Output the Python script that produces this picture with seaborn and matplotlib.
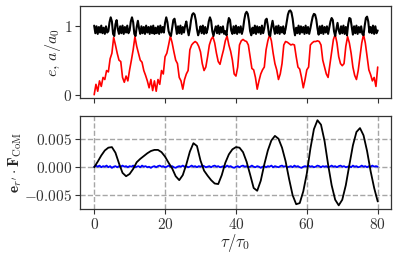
import numpy as np
import matplotlib
matplotlib.use('Agg')
import matplotlib.pyplot as plt
import seaborn as sns

# top panel: a/a0 (black), sampled every 1/3 tau0
a_ratio = [
    1.00, 0.89, 0.99, 0.88, 0.98, 0.90, 1.00, 0.89, 0.97, 0.88, 0.99, 0.90,
    0.92, 1.05, 1.12, 1.06, 0.88, 0.85, 1.02, 1.08, 0.95,
    0.88, 0.99, 0.89, 1.00, 0.88, 0.98, 0.90, 1.00, 0.89,
    0.93, 1.06, 1.12, 1.05, 0.88, 0.85, 0.98, 1.07, 0.96,
    0.88, 0.99, 0.89, 0.98, 0.88, 1.00, 0.90, 0.98, 0.88, 0.99,
    0.89, 1.00, 0.88, 0.97, 0.89, 0.99, 0.88, 1.00, 0.90, 0.98,
    0.90, 1.04, 1.12, 1.05, 0.92, 0.87, 0.85, 0.97, 1.08, 1.10, 1.00, 0.88,
    0.99, 0.89, 1.00, 0.88, 0.98, 0.90,
    1.00, 1.06, 0.95, 0.86, 0.95, 1.08, 1.16, 1.18, 1.16, 1.08, 0.95, 0.86, 0.92, 0.99,
    0.89, 1.00, 0.88, 0.98, 0.89, 0.95,
    1.06, 1.12, 1.07, 0.92, 0.85, 0.93,
    0.99, 0.89, 1.00, 0.88, 0.98, 0.90, 0.99, 0.88,
    0.92, 0.86, 1.02, 1.11, 1.08, 0.93,
    0.88, 0.99, 0.89, 1.00, 0.88, 0.98, 0.90, 0.99, 0.88,
    0.95, 1.08, 1.17, 1.20, 1.17, 1.07, 0.92, 0.86,
    0.97, 0.89, 1.00, 0.88, 0.99, 0.90, 0.98, 0.88, 1.00, 0.89,
    0.96, 1.08, 1.10, 1.00, 0.87, 0.85, 0.98, 1.07, 0.97, 0.88,
    0.99, 0.89, 1.00, 0.88, 0.98, 0.90, 0.99, 0.88, 0.95,
    1.06, 1.16, 1.21, 1.22, 1.19, 1.10, 0.96, 0.86,
    0.97, 0.89, 1.00, 0.88, 0.99, 0.90, 0.98, 0.88, 1.00, 0.89, 0.98, 0.88, 0.96,
    1.05, 1.13, 1.17, 1.16, 1.09, 0.96, 0.87,
    0.99, 0.89, 1.00, 0.88, 0.98, 0.90, 0.99, 0.88, 0.97,
    1.06, 1.11, 1.08, 0.92, 0.85, 0.95, 1.04, 0.93, 0.88,
    0.99, 0.89, 1.00, 0.88, 0.98,
    0.86, 1.02, 1.11, 1.10, 0.98, 0.87,
    0.99, 0.89, 1.00, 0.88, 0.98, 0.90, 0.99, 0.88, 0.86,
    1.00, 1.11, 1.13, 1.06, 0.90,
    0.98, 0.89, 1.00, 0.88, 0.99, 0.89, 0.93,
]

# top panel: eccentricity e (red), sampled every 0.5 tau0
ecc = [
    0.00, 0.15, 0.05, 0.20, 0.12, 0.25, 0.22, 0.35, 0.33, 0.52,
    0.60, 0.83, 0.72, 0.60, 0.50, 0.48, 0.25, 0.18, 0.27, 0.20,
    0.36, 0.50, 0.65, 0.84, 0.70, 0.60, 0.50, 0.47, 0.35, 0.28,
    0.20, 0.10, 0.22, 0.06, 0.20, 0.05, 0.22, 0.15, 0.35, 0.30,
    0.55, 0.60, 0.72, 0.85, 0.75, 0.62, 0.50, 0.45, 0.25, 0.20,
    0.08, 0.22, 0.30, 0.35, 0.65, 0.72, 0.75, 0.77, 0.75, 0.70,
    0.62, 0.45, 0.35, 0.40, 0.55, 0.72, 0.80, 0.84, 0.75, 0.60,
    0.48, 0.44, 0.55, 0.65, 0.78, 0.85, 0.72, 0.63, 0.50, 0.30,
    0.27, 0.40, 0.72, 0.78, 0.80, 0.78, 0.77, 0.72, 0.55, 0.38,
    0.36, 0.25, 0.08, 0.20, 0.30, 0.36, 0.40, 0.65, 0.78, 0.87,
    0.78, 0.60, 0.45, 0.36, 0.22, 0.30, 0.45, 0.72, 0.77, 0.76,
    0.74, 0.72, 0.73, 0.72, 0.55, 0.40, 0.37, 0.25, 0.10, 0.22,
    0.36, 0.40, 0.72, 0.75, 0.77, 0.77, 0.78, 0.77, 0.72, 0.50,
    0.40, 0.30, 0.25, 0.43, 0.62, 0.80, 0.87, 0.75, 0.55, 0.45,
    0.42, 0.45, 0.70, 0.84, 0.75, 0.60, 0.40, 0.28, 0.22, 0.35,
    0.55, 0.75, 0.87, 0.75, 0.55, 0.36, 0.29, 0.20, 0.25, 0.12,
    0.40,
]

# bottom panel: e_r' . F_CoM (black), every 1 tau0
force_r = [
    0.0000, 0.0010, 0.0021, 0.0030, 0.0035, 0.0036, 0.0026, 0.0007, -0.0010, -0.0016,
    -0.0012, -0.0003, 0.0009, 0.0015, 0.0020, 0.0025, 0.0029, 0.0031, 0.0031, 0.0027,
    0.0019, 0.0008, -0.0002, -0.0016, -0.0023, -0.0014, 0.0005, 0.0028, 0.0043, 0.0038,
    0.0012, -0.0006, -0.0015, -0.0023, -0.0029, -0.0030, -0.0014, 0.0008, 0.0023, 0.0032,
    0.0036, 0.0035, 0.0027, 0.0010, -0.0013, -0.0037, -0.0042, -0.0024, 0.0005, 0.0030,
    0.0048, 0.0056, 0.0051, 0.0035, 0.0011, -0.0021, -0.0050, -0.0066, -0.0064, -0.0043,
    -0.0011, 0.0033, 0.0068, 0.0084, 0.0076, 0.0047, 0.0005, -0.0032, -0.0058, -0.0068,
    -0.0058, -0.0032, 0.0004, 0.0039, 0.0063, 0.0070, 0.0057, 0.0029, -0.0007, -0.0037,
    -0.0061,
]

# bottom panel: small blue component, every 0.5 tau0
force_b = [
    0.0001, 0.0003, 0.0001, 0.0003, 0.0000, 0.0002, 0.0001, 0.0003, 0.0000, 0.0002,
    -0.0001, 0.0001, 0.0002, 0.0000, 0.0002, 0.0001, 0.0003, 0.0001, 0.0002, 0.0000,
    0.0002, 0.0001, 0.0003, 0.0000, 0.0001, 0.0002, 0.0000, 0.0003, 0.0001, 0.0002,
    0.0000, 0.0001, -0.0001, 0.0001, 0.0002, 0.0000, 0.0002, 0.0003, 0.0001, 0.0002,
    0.0000, 0.0001, 0.0003, 0.0001, 0.0002, 0.0000, -0.0001, 0.0001, 0.0002, 0.0001,
    0.0003, 0.0001, 0.0002, 0.0000, 0.0001, 0.0003, 0.0001, 0.0002, 0.0000, 0.0002,
    0.0001, 0.0003, 0.0002, 0.0000, 0.0001, 0.0002, 0.0000, 0.0002, 0.0003, 0.0001,
    0.0002, 0.0000, 0.0001, 0.0002, 0.0000, 0.0003, 0.0001, 0.0002, 0.0000, -0.0001,
    0.0001, 0.0002, 0.0000, 0.0002, 0.0003, 0.0001, 0.0002, 0.0000, 0.0001, 0.0003,
    0.0001, 0.0000, 0.0002, 0.0001, -0.0001, 0.0001, 0.0002, 0.0000, 0.0002, 0.0001,
    0.0003, 0.0000, 0.0002, 0.0001, 0.0000, 0.0002, 0.0003, 0.0001, 0.0002, 0.0000,
    0.0001, 0.0002, 0.0000, 0.0003, 0.0001, 0.0002, 0.0000, -0.0001, 0.0001, 0.0002,
    0.0001, 0.0003, 0.0001, 0.0002, 0.0000, 0.0001, 0.0003, 0.0002, 0.0000, 0.0002,
    0.0001, 0.0002, 0.0000, 0.0001, 0.0003, 0.0001, 0.0002, 0.0000, 0.0002, 0.0003,
    0.0001, 0.0002, 0.0000, 0.0001, 0.0002, 0.0000, 0.0003, 0.0001, 0.0002, 0.0000,
    0.0001, 0.0003, 0.0001, 0.0002, 0.0000, 0.0002, 0.0001, 0.0003, 0.0001, 0.0002,
    0.0001,
]

x_ticks = [0, 20, 40, 60, 80]
top_yticks = [0, 1]
bot_yticks = [-0.005, 0.0, 0.005]
bot_ylabels = ['$-0.005$', '$0.000$', '$0.005$']

sns.set_theme(style='ticks')
plt.rcParams['font.family'] = ['DejaVu Serif']
plt.rcParams['mathtext.fontset'] = 'cm'
plt.rcParams['axes.edgecolor'] = '0.2'
plt.rcParams['xtick.color'] = '0.2'
plt.rcParams['ytick.color'] = '0.2'


def main():
    fig = plt.figure(figsize=(3.99, 2.58), dpi=100)
    ax1 = fig.add_axes([0.2005, 0.619, 0.779, 0.358])
    ax2 = fig.add_axes([0.2005, 0.190, 0.779, 0.3605])

    t_a = np.linspace(0, 80, len(a_ratio))
    t_e = np.linspace(0, 80, len(ecc))
    t_f = np.linspace(0, 80, len(force_r))
    t_b = np.linspace(0, 80, len(force_b))

    sns.lineplot(x=t_e, y=ecc, ax=ax1, color='red', lw=1.2)
    sns.lineplot(x=t_a, y=a_ratio, ax=ax1, color='black', lw=1.5)
    ax1.set_ylim(-0.052, 1.285)
    ax1.set_xlim(-4, 83.7)
    ax1.set_xticks(x_ticks)
    ax1.set_xticklabels([])
    ax1.set_yticks(top_yticks)
    ax1.set_yticklabels(['$%d$' % v for v in top_yticks])
    ax1.set_ylabel(r'$e,\,a/a_0$', fontsize=11.5, labelpad=0)

    sns.lineplot(x=t_b, y=force_b, ax=ax2, color='blue', lw=1.3)
    sns.lineplot(x=t_f, y=force_r, ax=ax2, color='black', lw=1.3)
    ax2.set_ylim(-0.00745, 0.00916)
    ax2.set_xlim(-4, 83.7)
    ax2.set_xticks(x_ticks)
    ax2.set_xticklabels(['$%d$' % v for v in x_ticks])
    ax2.set_yticks(bot_yticks)
    ax2.set_yticklabels(bot_ylabels)
    ax2.grid(True, ls='--', color='0.65', lw=1.0)
    ax2.set_axisbelow(True)
    ax2.set_xlabel(r'$\tau/\tau_0$', fontsize=12, labelpad=0)
    ax2.set_ylabel(r'$\mathbf{e}_{r^{\prime}}\cdot\mathbf{F}_{\rm CoM}$', fontsize=11, labelpad=0)

    for ax in (ax1, ax2):
        ax.tick_params(direction='out', length=3.5, width=0.8, labelsize=11, pad=2)
        for sp in ax.spines.values():
            sp.set_linewidth(0.9)

    fig.savefig('out.png', dpi=100)
    plt.close(fig)


if __name__ == '__main__':
    main()
